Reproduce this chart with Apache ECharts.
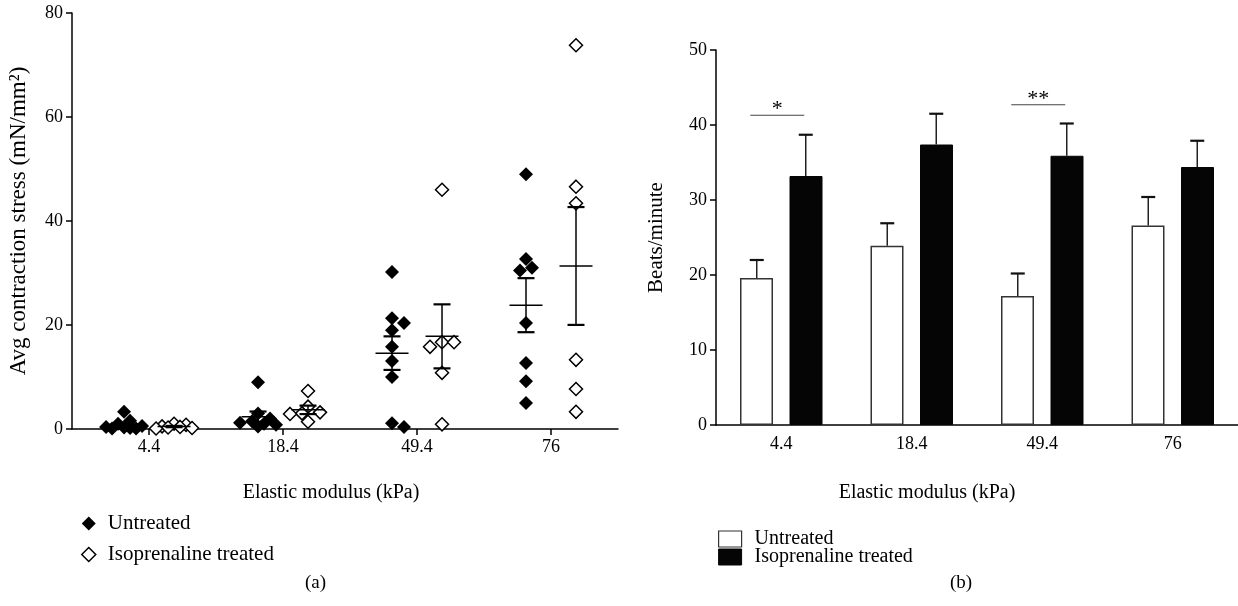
<!DOCTYPE html>
<html>
<head>
<meta charset="utf-8">
<style>
  html, body { margin: 0; padding: 0; background: #fff; }
  #chart { width: 1238px; height: 606px; }
</style>
<script src="https://cdn.jsdelivr.net/npm/echarts@6/dist/echarts.min.js"></script>
</head>
<body>
<div id="chart"></div>
<script>
// categories (elastic modulus, kPa)
var moduli = ['4.4', '18.4', '49.4', '76'];

// (a) individual contraction stress values, mN/mm^2
var stressUntreated = [
    [3.3, 1.6, 1.0, 0.6, 0.4, 0.3, 0.2, 0.1, 0.1],
    [9.0, 3.0, 2.0, 1.5, 1.2, 1.0, 0.8, 0.5],
    [30.2, 21.3, 20.4, 19.0, 15.8, 13.1, 10.0, 1.1, 0.4],
    [49.0, 32.7, 31.0, 30.5, 20.4, 12.7, 9.2, 5.0]
];
var stressTreated = [
    [1.0, 0.8, 0.5, 0.4, 0.3, 0.2, 0.1],
    [7.3, 4.3, 3.2, 3.0, 2.9, 1.4],
    [46.0, 16.7, 16.7, 15.8, 10.8, 0.9],
    [73.8, 46.6, 43.4, 13.3, 7.7, 3.3]
];

// (b) beating rate, mean and SEM
var beatsUntreated = [19.6, 23.9, 17.2, 26.6];
var beatsUntreatedErr = [2.4, 3.0, 3.0, 3.8];
var beatsTreated = [33.2, 37.4, 35.9, 34.4];
var beatsTreatedErr = [5.5, 4.1, 4.3, 3.5];

// significance marks over (b)
var sigMarks = [[0, 41.3, '*'], [2, 42.7, '**']];

var FONT = 'Liberation Serif';
var PX_X = 134;      // px per category on panel (a)
var PX_Y = 5.2;      // px per mN/mm2 on panel (a)

function meanSem(v) {
    var n = v.length, m = 0, s = 0;
    v.forEach(function (x) { m += x; });
    m /= n;
    v.forEach(function (x) { s += (x - m) * (x - m); });
    return [m, Math.sqrt(s / (n - 1)) / Math.sqrt(n)];
}

// small beeswarm: spread overlapping diamonds sideways, but keep the cluster tight
function swarm(vals, xc) {
    var placed = [], D = 9, step = 6;
    var offs = [0, step, -step, 2 * step, -2 * step, 3 * step, -3 * step];
    return vals.map(function (v) {
        var py = v * PX_Y, best = 0, bestD = -1;
        for (var i = 0; i < offs.length; i++) {
            var d = Infinity;
            placed.forEach(function (p) {
                d = Math.min(d, Math.hypot(p[0] - offs[i], p[1] - py));
            });
            if (d >= D) { best = offs[i]; bestD = d; break; }
            if (d > bestD + 0.5) { bestD = d; best = offs[i]; }
        }
        placed.push([best, py]);
        return [xc + best / PX_X, v];
    });
}

var ptsU = [], ptsT = [], statU = [], statT = [];
moduli.forEach(function (m, i) {
    var xu = i + 1 - 25 / PX_X, xt = i + 1 + 25 / PX_X;
    ptsU = ptsU.concat(swarm(stressUntreated[i], xu));
    ptsT = ptsT.concat(swarm(stressTreated[i], xt));
    statU.push([xu].concat(meanSem(stressUntreated[i])));
    statT.push([xt].concat(meanSem(stressTreated[i])));
});

function renderMeanSem(params, api) {
    var x = api.value(0), m = api.value(1), e = api.value(2);
    var c = api.coord([x, m]), hi = api.coord([x, m + e]), lo = api.coord([x, m - e]);
    var st = { stroke: '#000', lineWidth: 1.5 };
    var cap = { stroke: '#000', lineWidth: 2.2 };
    return {
        type: 'group',
        children: [
            { type: 'line', shape: { x1: c[0] - 16.5, y1: c[1], x2: c[0] + 16.5, y2: c[1] }, style: st },
            { type: 'line', shape: { x1: c[0], y1: hi[1], x2: c[0], y2: lo[1] }, style: st },
            { type: 'line', shape: { x1: c[0] - 8.5, y1: hi[1], x2: c[0] + 8.5, y2: hi[1] }, style: cap },
            { type: 'line', shape: { x1: c[0] - 8.5, y1: lo[1], x2: c[0] + 8.5, y2: lo[1] }, style: cap }
        ]
    };
}

function barErr(shift) {
    return function (params, api) {
        var i = api.value(0), v = api.value(1), e = api.value(2);
        var top = api.coord([i, v]), hi = api.coord([i, v + e]);
        var x = top[0] + shift;
        return {
            type: 'group',
            children: [
                { type: 'line', shape: { x1: x, y1: top[1], x2: x, y2: hi[1] }, style: { stroke: '#222', lineWidth: 1.5 } },
                { type: 'line', shape: { x1: x - 7, y1: hi[1], x2: x + 7, y2: hi[1] }, style: { stroke: '#111', lineWidth: 2.2 } }
            ]
        };
    };
}

var chart = echarts.init(document.getElementById('chart'));

var option = {
    animation: false,
    textStyle: { fontFamily: FONT },
    grid: [
        { left: 72, top: 13, width: 546, height: 416 },
        { left: 716, top: 50, width: 522, height: 375 }
    ],
    xAxis: [
        {
            type: 'value', gridIndex: 0, min: 0.425, max: 4.5,
            name: 'Elastic modulus (kPa)', nameLocation: 'middle', nameGap: 54,
            nameTextStyle: { color: '#000', fontFamily: FONT, fontSize: 20, padding: [0, 28, 0, 0] },
            splitLine: { show: false },
            axisLine: { lineStyle: { color: '#000', width: 1.5 } },
            axisTick: { customValues: [1, 2, 3, 4], length: 6, lineStyle: { color: '#000', width: 1.5 } },
            axisLabel: {
                customValues: [1, 2, 3, 4], margin: 9,
                formatter: function (v) { return moduli[Math.round(v) - 1]; },
                color: '#000', fontFamily: FONT, fontSize: 18
            }
        },
        {
            type: 'category', gridIndex: 1, data: moduli,
            name: 'Elastic modulus (kPa)', nameLocation: 'middle', nameGap: 58,
            nameTextStyle: { color: '#000', fontFamily: FONT, fontSize: 20, padding: [0, 100, 0, 0] },
            axisLine: { lineStyle: { color: '#000', width: 1.5 } },
            axisTick: { alignWithLabel: true, length: 6, lineStyle: { color: '#000', width: 1.5 } },
            axisLabel: { margin: 10, color: '#000', fontFamily: FONT, fontSize: 18 }
        }
    ],
    yAxis: [
        {
            type: 'value', gridIndex: 0, min: 0, max: 80, interval: 20,
            name: 'Avg contraction stress (mN/mm\u00b2)', nameLocation: 'middle', nameGap: 42,
            nameTextStyle: { color: '#000', fontFamily: FONT, fontSize: 23 },
            splitLine: { show: false },
            axisLine: { show: true, lineStyle: { color: '#000', width: 1.5 } },
            axisTick: { show: true, length: 6, lineStyle: { color: '#000', width: 1.5 } },
            axisLabel: { margin: 9, color: '#000', fontFamily: FONT, fontSize: 18 }
        },
        {
            type: 'value', gridIndex: 1, min: 0, max: 50, interval: 10,
            name: 'Beats/minute', nameLocation: 'middle', nameGap: 49,
            nameTextStyle: { color: '#000', fontFamily: FONT, fontSize: 21 },
            splitLine: { show: false },
            axisLine: { show: true, lineStyle: { color: '#000', width: 1.5 } },
            axisTick: { show: true, length: 6, lineStyle: { color: '#000', width: 1.5 } },
            axisLabel: { margin: 9, color: '#000', fontFamily: FONT, fontSize: 18 }
        }
    ],
    legend: [
        {
            left: 81, top: 513, orient: 'vertical', itemGap: 10, padding: 0,
            itemWidth: 14, itemHeight: 14, selectedMode: false,
            textStyle: { color: '#000', fontFamily: FONT, fontSize: 21, lineHeight: 20, padding: [0, 0, 0, 7] },
            data: [
                { name: 'Untreated', icon: 'diamond', itemStyle: { color: '#000', borderWidth: 0 } },
                { name: 'Isoprenaline treated', icon: 'diamond', itemStyle: { color: '#fff', borderColor: '#000', borderWidth: 1.5 } }
            ]
        },
        {
            left: 718, top: 529, orient: 'vertical', itemGap: -2, padding: 0,
            itemWidth: 23, itemHeight: 16, selectedMode: false,
            textStyle: { color: '#000', fontFamily: FONT, fontSize: 20, lineHeight: 17, padding: [0, 0, 0, 8] },
            data: [
                { name: 'Untreated', icon: 'rect', itemStyle: { color: '#fff', borderColor: '#333', borderWidth: 1.2 } },
                { name: 'Isoprenaline treated', icon: 'rect', itemStyle: { color: '#050505', borderColor: '#050505', borderWidth: 1 } }
            ]
        }
    ],
    graphic: [
        { type: 'text', left: 305, top: 574, style: { text: '(a)', fill: '#000', font: '19px "Liberation Serif"' } },
        { type: 'text', left: 950, top: 574, style: { text: '(b)', fill: '#000', font: '19px "Liberation Serif"' } }
    ],
    series: [
        {
            name: 'Untreated', type: 'scatter', xAxisIndex: 0, yAxisIndex: 0,
            symbol: 'diamond', symbolSize: 14, data: ptsU,
            itemStyle: { color: '#000', opacity: 1 }
        },
        {
            name: 'Isoprenaline treated', type: 'scatter', xAxisIndex: 0, yAxisIndex: 0,
            symbol: 'diamond', symbolSize: 13, data: ptsT,
            itemStyle: { color: '#fff', borderColor: '#000', borderWidth: 1.5, opacity: 1 }
        },
        { type: 'custom', xAxisIndex: 0, yAxisIndex: 0, renderItem: renderMeanSem, data: statU, z: 5 },
        { type: 'custom', xAxisIndex: 0, yAxisIndex: 0, renderItem: renderMeanSem, data: statT, z: 5 },
        {
            name: 'Untreated', type: 'bar', xAxisIndex: 1, yAxisIndex: 1,
            barWidth: 33, barGap: '50%', data: beatsUntreated,
            itemStyle: { color: '#fff', borderColor: '#333', borderWidth: 1.5 }
        },
        {
            name: 'Isoprenaline treated', type: 'bar', xAxisIndex: 1, yAxisIndex: 1,
            barWidth: 33, barGap: '50%', data: beatsTreated,
            itemStyle: { color: '#050505', borderColor: '#050505', borderWidth: 1 }
        },
        {
            type: 'custom', xAxisIndex: 1, yAxisIndex: 1, renderItem: barErr(-24.5), z: 5,
            data: beatsUntreated.map(function (v, i) { return [i, v, beatsUntreatedErr[i]]; })
        },
        {
            type: 'custom', xAxisIndex: 1, yAxisIndex: 1, renderItem: barErr(24.5), z: 5,
            data: beatsTreated.map(function (v, i) { return [i, v, beatsTreatedErr[i]]; })
        },
        {
            type: 'custom', xAxisIndex: 1, yAxisIndex: 1, z: 5,
            data: sigMarks,
            renderItem: function (params, api) {
                var p = api.coord([api.value(0), api.value(1)]);
                return {
                    type: 'group',
                    children: [
                        { type: 'line', shape: { x1: p[0] - 31, y1: p[1], x2: p[0] + 23, y2: p[1] }, style: { stroke: '#444', lineWidth: 1.2 } },
                        { type: 'text', x: p[0] - 4, y: p[1] + 5, style: { text: sigMarks[params.dataIndex][2], fill: '#000', font: '22px "Liberation Serif"', textAlign: 'center', textVerticalAlign: 'bottom' } }
                    ]
                };
            }
        }
    ]
};
chart.setOption(option);
</script>
</body>
</html>
